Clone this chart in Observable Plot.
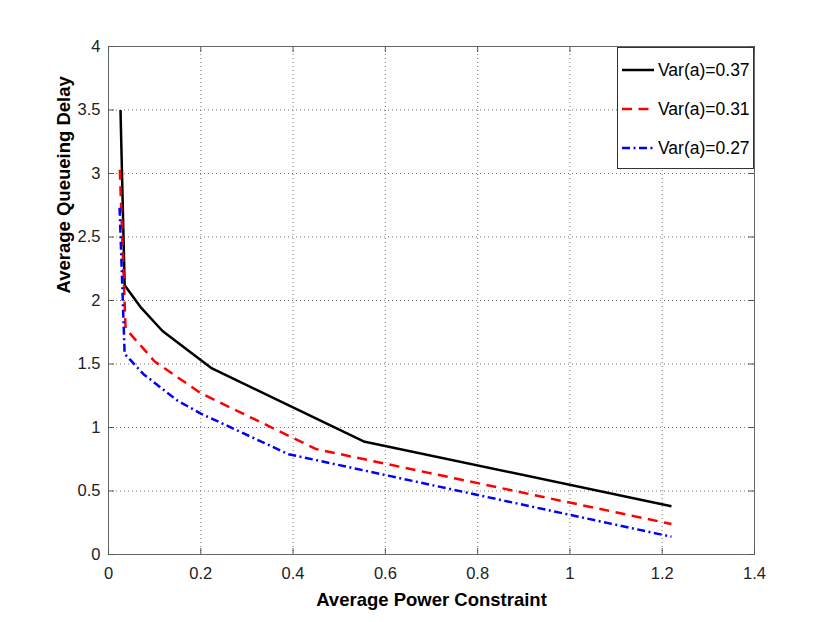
<!DOCTYPE html>
<html>
<head>
<meta charset="utf-8">
<script src="https://cdn.jsdelivr.net/npm/d3@7"></script>
<script src="https://cdn.jsdelivr.net/npm/@observablehq/plot@0.6"></script>
<style>
  html, body { margin: 0; padding: 0; background: #fff; }
  #wrap { position: relative; width: 830px; height: 622px; }
  #legend { position: absolute; left: 617px; top: 47px; width: 135px; height: 120px;
    border: 1px solid #333; background: #fff; font-family: "Liberation Sans", Arial, sans-serif; font-size: 17px; }
</style>
</head>
<body>
<div id="wrap"></div>
<script>
// ---- data ----
const seriesNames = ["Var(a)=0.37", "Var(a)=0.31", "Var(a)=0.27"];
const xBlack = [0.026, 0.035, 0.069, 0.117, 0.222, 0.553, 1.22];
const yBlack = [3.5, 2.12, 1.95, 1.76, 1.47, 0.89, 0.38];
const xRed = [0.0245, 0.037, 0.1, 0.2, 0.45, 1.22];
const yRed = [3.03, 1.78, 1.52, 1.27, 0.83, 0.24];
const xBlue = [0.024, 0.035, 0.076, 0.15, 0.2, 0.39, 1.22];
const yBlue = [2.73, 1.58, 1.42, 1.21, 1.11, 0.79, 0.14];
const xTicks = [0, 0.2, 0.4, 0.6, 0.8, 1, 1.2, 1.4];
const yTicks = [0, 0.5, 1, 1.5, 2, 2.5, 3, 3.5, 4];
const xLabel = "Average Power Constraint";
const yLabel = "Average Queueing Delay";

const styles = [
  {stroke: "#000000", dash: null},
  {stroke: "#ff0000", dash: "10,6.5"},
  {stroke: "#0000ff", dash: "8,3.5,2,3.5"}
];
const xs = [xBlack, xRed, xBlue];
const ys = [yBlack, yRed, yBlue];
const rows = [];
xs.forEach((xa, s) => xa.forEach((x, i) => rows.push({series: seriesNames[s], x, y: ys[s][i], s})));

const W = 830, H = 622, mL = 108, mR = 76, mT = 46, mB = 68;
const pw = W - mL - mR, ph = H - mT - mB, tk = 6;
const font = "Liberation Sans, Arial, Helvetica, sans-serif";

const lineMarks = styles.map((st, s) =>
  Plot.line(rows.filter(d => d.s === s), {x: "x", y: "y", stroke: st.stroke, strokeWidth: 2.5,
    strokeDasharray: st.dash, strokeLinejoin: "round", strokeLinecap: "butt"}));

const chart = Plot.plot({
  width: W, height: H,
  marginLeft: mL, marginRight: mR, marginTop: mT, marginBottom: mB,
  x: {domain: [0, 1.4]},
  y: {domain: [0, 4]},
  style: {fontFamily: font, fontSize: "16.5px", background: "#fff", color: "#222"},
  marks: [
    Plot.gridX(xTicks, {stroke: "#777", strokeOpacity: 1, strokeDasharray: "1,3"}),
    Plot.gridY(yTicks, {stroke: "#777", strokeOpacity: 1, strokeDasharray: "1,3"}),
    ...lineMarks,
    Plot.frame({stroke: "#666"}),
    Plot.ruleX(xTicks, {stroke: "#555", insetTop: ph - tk}),
    Plot.ruleX(xTicks, {stroke: "#555", insetBottom: ph - tk}),
    Plot.ruleY(yTicks, {stroke: "#555", insetRight: pw - tk}),
    Plot.ruleY(yTicks, {stroke: "#555", insetLeft: pw - tk}),
    Plot.axisX(xTicks, {tickSize: 0, tickPadding: 13, tickFormat: d => String(d), label: null, fill: "#222", fontSize: 16.5}),
    Plot.axisY(yTicks, {tickSize: 0, tickPadding: 8, tickFormat: d => String(d), label: null, fill: "#222", fontSize: 16.5}),
    Plot.text([xLabel], {text: d => d, frameAnchor: "bottom", dy: 38, lineAnchor: "top",
      fontSize: 18.5, fontWeight: "bold", fill: "#000"}),
    Plot.text([yLabel], {text: d => d, frameAnchor: "left", dx: -44, dy: -7, rotate: -90,
      fontSize: 18.5, fontWeight: "bold", fill: "#000"})
  ]
});
const wrap = document.getElementById("wrap");
wrap.appendChild(chart);

// legend
const leg = document.createElement("div");
leg.id = "legend";
const ns = "http://www.w3.org/2000/svg";
const lsvg = document.createElementNS(ns, "svg");
lsvg.setAttribute("width", 135); lsvg.setAttribute("height", 120);
seriesNames.forEach((name, i) => {
  const yy = 22 + i * 39;
  const ln = document.createElementNS(ns, "line");
  ln.setAttribute("x1", 4); ln.setAttribute("x2", 36);
  ln.setAttribute("y1", yy); ln.setAttribute("y2", yy);
  ln.setAttribute("stroke", styles[i].stroke); ln.setAttribute("stroke-width", 2.5);
  if (styles[i].dash) ln.setAttribute("stroke-dasharray", styles[i].dash);
  lsvg.appendChild(ln);
  const tx = document.createElementNS(ns, "text");
  tx.setAttribute("x", 40); tx.setAttribute("y", yy + 6);
  tx.setAttribute("font-family", font); tx.setAttribute("font-size", 17.5);
  tx.textContent = name;
  lsvg.appendChild(tx);
});
leg.appendChild(lsvg);
wrap.appendChild(leg);
</script>
</body>
</html>
